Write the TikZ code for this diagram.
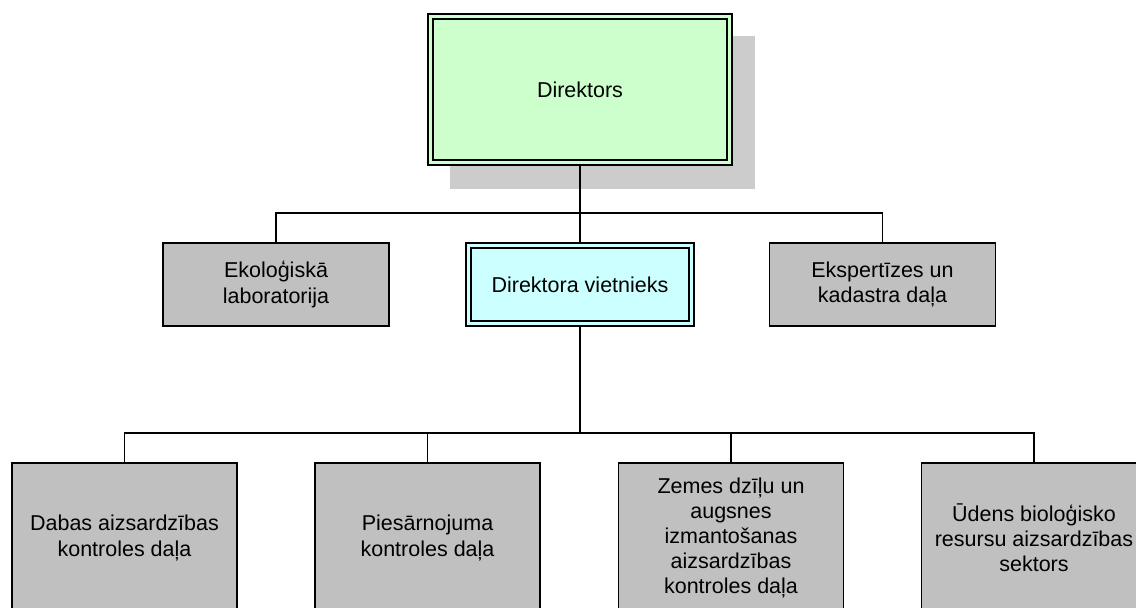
\documentclass[tikz,border=0pt]{standalone}
\usepackage{fontspec}
\setmainfont{Liberation Sans}
\usetikzlibrary{backgrounds}

% colours of the chart
\definecolor{unitgray}{HTML}{C0C0C0}
\definecolor{shadegray}{HTML}{CCCCCC}
\definecolor{headgreen}{HTML}{CCFFCC}
\definecolor{vicecyan}{HTML}{CCFFFF}

\tikzset{
  unit/.style={draw, line width=0.9pt, fill=unitgray, align=center, inner sep=0pt,
    minimum width=113pt, minimum height=41.5pt, font=\fontsize{10.75}{12.6}\selectfont},
  lowunit/.style={unit, minimum width=112.5pt, minimum height=75pt},
  head/.style={draw, line width=0.85pt, double distance=1.65pt, outer sep=1.675pt,
    align=center, inner sep=0pt, font=\fontsize{10.75}{12.6}\selectfont},
  link/.style={line width=0.75pt}
}

\begin{document}
\begin{tikzpicture}[x=0.5pt, y=-0.5pt]
\useasboundingbox (0,0) rectangle (1136,607);
\clip (0,0) rectangle (1136,607);

% Top of the chart
\node[head, fill=headgreen, double=headgreen, minimum width=149.2pt, minimum height=73.1pt] (dir) at (580,89.5) {Direktors};
\begin{scope}[on background layer]
\fill[shadegray] ([shift={(22.5,23)}]dir.north west) rectangle ([shift={(22.5,23)}]dir.south east);
\end{scope}

% Second row
\node[unit] (eko) at (276,284.5) {Ekoloģiskā\\laboratorija};
\node[head, fill=vicecyan, double=vicecyan, minimum width=111.6pt, minimum height=39.2pt] (vice) at (580,284.5) {Direktora vietnieks};
\node[unit] (eks) at (882.5,284.5) {Ekspertīzes un\\kadastra daļa};

% Third row
\node[lowunit] (dab) at (124.5,538) {Dabas aizsardzības\\kontroles daļa};
\node[lowunit] (pie) at (427.5,538) {Piesārnojuma\\kontroles daļa};
\node[lowunit] (zem) at (731,538) {Zemes dzīļu un\\augsnes\\izmantošanas\\aizsardzības\\kontroles daļa};
\node[lowunit] (ude) at (1034,538) {Ūdens bioloģisko\\resursu aizsardzības\\sektors};

% Connectors
\coordinate (busA) at (580,213);
\coordinate (busB) at (580,433);
\draw[link] (dir.south) -- (busA);
\draw[link] (eko.north) |- (busA) -| (eks.north);
\draw[link] (busA) -- (vice.north);
\draw[link] (vice.south) -- (busB);
\draw[link] (dab.north) |- (busB) -| (ude.north);
\draw[link] (pie.north) |- (busB);
\draw[link] (zem.north) |- (busB);
\end{tikzpicture}
\end{document}
